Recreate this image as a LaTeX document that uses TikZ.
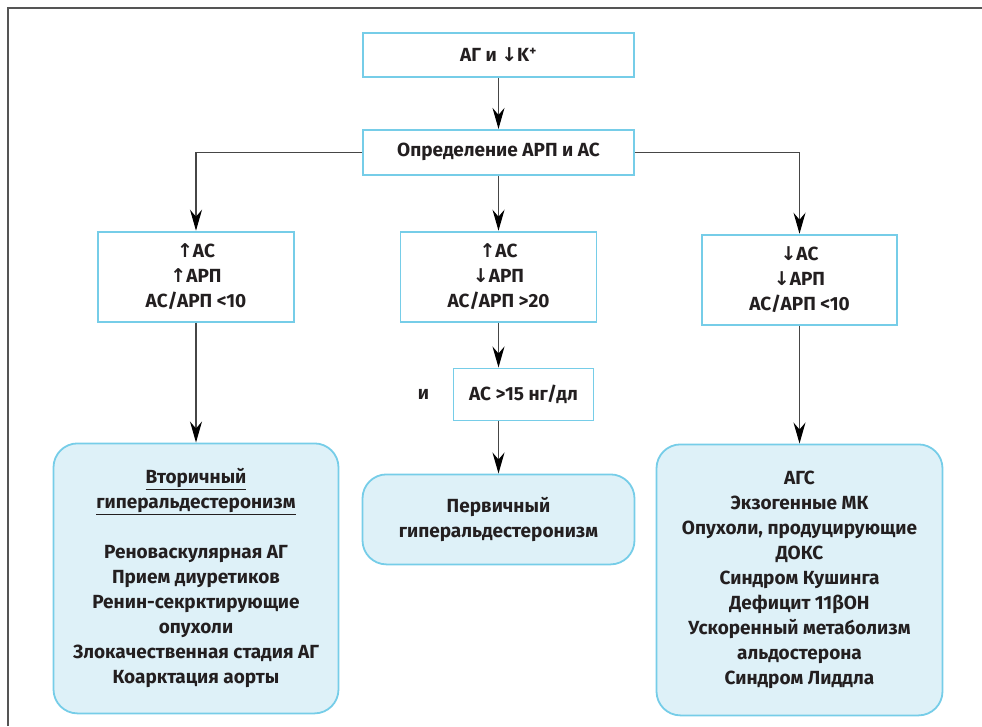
\documentclass[tikz,border=0pt]{standalone}
\usepackage{fontspec}
\setmainfont{Fira Sans}
\newfontfamily\symbolfont{DejaVu Sans}
\usetikzlibrary{arrows.meta, positioning}

\definecolor{boxline}{RGB}{118,205,232}
\definecolor{boxfill}{RGB}{222,241,248}
\definecolor{inkdark}{RGB}{35,31,32}
\definecolor{wiregray}{RGB}{70,70,70}
\definecolor{framegray}{RGB}{85,85,85}

\newcommand{\up}{{\symbolfont\bfseries ↑}}
\newcommand{\down}{{\symbolfont\bfseries ↓}}

\begin{document}
\begin{tikzpicture}[
    x=1pt, y=1pt,
    % === STYLES ===
    crit/.style={
        rectangle,
        draw=boxline,
        line width=1.8pt,
        fill=white,
        text=inkdark,
        text centered,
        inner sep=2pt,
        font=\fontsize{19}{25}\selectfont\bfseries,
        align=center
    },
    result/.style={
        crit,
        fill=boxfill,
        rounded corners=24pt
    },
    arrow/.style={
        -{Stealth[length=21pt, width=12pt, inset=7pt, color=black]},
        line width=1.2pt,
        draw=wiregray
    },
    andlabel/.style={
        text=inkdark,
        font=\fontsize{19}{25}\selectfont\bfseries
    }
]
\useasboundingbox (0,0) rectangle (982,-726);

% === FRAME ===
\draw[framegray, line width=2pt] (8,-726) -- (8,-8) -- (982,-8);

% === TOP ===
\node[crit, minimum width=271pt, minimum height=44pt] (start) at (498.5,-55) {АГ и \down K\textsuperscript{+}};
\node[crit, minimum width=271pt, minimum height=45pt, below=51pt of start] (define) {Определение АРП и АС};

% === CRITERIA ===
\node[crit, minimum width=196pt, minimum height=90pt, below=55pt of define, xshift=-302.5pt] (leftcrit)
    {\up АС\\\up АРП\\АС/АРП <10};
\node[crit, minimum width=196pt, minimum height=90pt, below=55pt of define] (midcrit)
    {\up АС\\\down АРП\\АС/АРП >20};
\node[crit, minimum width=195pt, minimum height=90pt, below=58pt of define, xshift=301pt] (rightcrit)
    {\down АС\\\down АРП\\АС/АРП <10};

% extra condition
\node[crit, minimum width=140pt, minimum height=52pt, below=45pt of midcrit, xshift=25pt] (extra) {АС >15 нг/дл};
\node[andlabel, left=20pt of extra] (andword) {и};

% === RESULTS ===
\node[result, minimum width=285pt, minimum height=270pt, below=120pt of leftcrit] (secondary)
    {\underline{Вторичный}\\\underline{гиперальдестеронизм}\\[25pt]
     Реноваскулярная АГ\\Прием диуретиков\\Ренин-секрктирующие\\опухоли\\
     Злокачественная стадия АГ\\Коарктация аорты};
\node[result, minimum width=272pt, minimum height=90pt, below=151pt of midcrit] (primary)
    {Первичный\\гиперальдестеронизм};
\node[result, minimum width=286pt, minimum height=271pt, below=118pt of rightcrit] (lowrenin)
    {АГС\\Экзогенные МК\\Опухоли, продуцирующие\\ДОКС\\Синдром Кушинга\\
     Дефицит 11βОН\\Ускоренный метаболизм\\альдостерона\\Синдром Лиддла};

% === CONNECTIONS ===
\draw[arrow] (start) -- (define);
\draw[arrow] (define.west) -| (leftcrit.north);
\draw[arrow] (define) -- (midcrit);
\draw[arrow] (define.east) -| (rightcrit.north);

\draw[arrow] (leftcrit) -- (secondary);
\draw[arrow] (midcrit.south) -- (midcrit.south |- extra.north);
\draw[arrow] (midcrit.south |- extra.south) -- (midcrit.south |- primary.north);
\draw[arrow] (rightcrit) -- (lowrenin);

\end{tikzpicture}
\end{document}
